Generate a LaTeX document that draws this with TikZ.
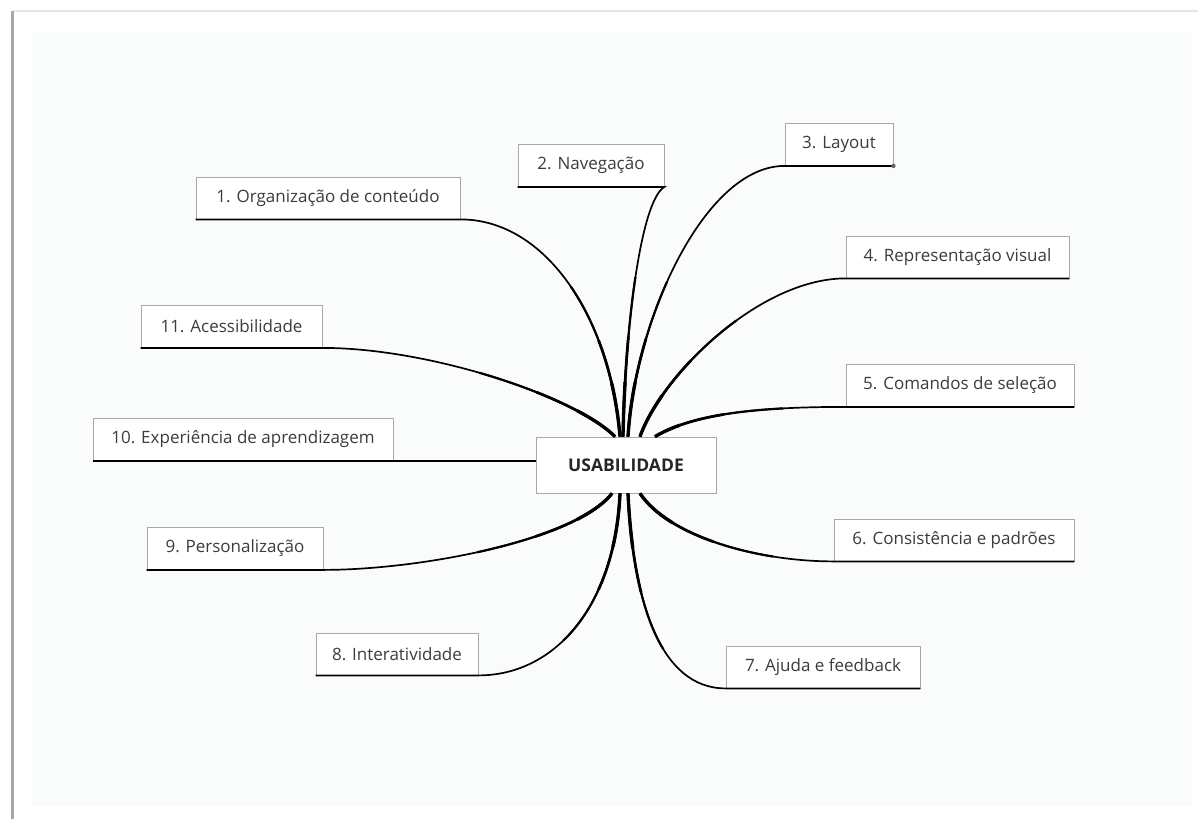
\documentclass[tikz,border=0pt]{standalone}
\usepackage{fontspec}
\setmainfont{Open Sans}
\usetikzlibrary{positioning,calc}
\definecolor{pagebg}{HTML}{FAFBFB}
\definecolor{boxline}{HTML}{A8A8A8}
\definecolor{labeltext}{HTML}{3C3C3C}
\tikzset{
     topic/.style = {draw=boxline, fill=white, text=labeltext, line width=0.8pt,
       font=\fontsize{17}{20}\selectfont, minimum height=42pt, inner sep=0pt},
     hub/.style = {topic, minimum height=56pt, minimum width=180pt, text=black!85,
       font=\fontsize{17.5}{20}\selectfont\bfseries},
     branch/.style = {black, line width=1.7pt},
    }
\newcommand{\usabranches}{
        \draw[branch] ([xshift=-6pt]c.north) .. controls +(-10,-120) and +(85,0) .. (o1.south east) -- (o1.south west);
        \draw[branch] ([xshift=-3pt]c.north) .. controls +(2,-107) and +(-24,14) .. (o2.south east) -- (o2.south west);
        \draw[branch] ([xshift=2pt]c.north) .. controls +(7,-117) and +(-80,0) .. (o3.south west) -- (o3.south east);
        \draw[branch] ([xshift=14pt]c.north) .. controls +(22,-62) and +(-86,0) .. (o4.south west) -- (o4.south east);
        \draw[branch] ([xshift=29pt]c.north) .. controls +(40,-24) and +(-81,0) .. (o5.south west) -- (o5.south east);
        \draw[branch] ([xshift=14pt]c.south) .. controls +(28,42) and +(-79,0) .. (o6.south west) -- (o6.south east);
        \draw[branch] ([xshift=2pt]c.south) .. controls +(5,107) and +(-66,0) .. (o7.south west) -- (o7.south east);
        \draw[branch] ([xshift=-6pt]c.south) .. controls +(-5,112) and +(77,0) .. (o8.south east) -- (o8.south west);
        \draw[branch] ([xshift=-14pt]c.south) .. controls +(-37,47) and +(97,0) .. (o9.south east) -- (o9.south west);
        \draw[branch] ([xshift=-11pt]c.north) .. controls +(-40,-40) and +(108,0) .. (o11.south east) -- (o11.south west);
}

\begin{document}
\begin{tikzpicture}[x=1pt,y=-1pt]
        \useasboundingbox (0,0) rectangle (1198,819);
        \fill[white] (0,0) rectangle (1198,819);
        \fill[pagebg] (32,32) rectangle (1192,806);
        \draw[black!10, line width=2pt] (13,11) -- (1198,11);
        \draw[black!35, line width=3pt] (12.5,11) -- (12.5,819);
        \node [topic, minimum width=264pt] (o1) at (328,198)   {1. Organização de conteúdo};
        \node [topic, minimum width=146pt] (o2) at (591,165.5) {2. Navegação};
        \node [topic, minimum width=108pt] (o3) at (839,144.5) {3. Layout};
        \node [topic, minimum width=223pt] (o4) at (957.5,257) {4. Representação visual};
        \node [topic, minimum width=228pt] (o5) at (960,385.5) {5. Comandos de seleção};
        \node [topic, minimum width=240pt] (o6) at (954,540)   {6. Consistência e padrões};
        \node [topic, minimum width=194pt] (o7) at (823,667)   {7. Ajuda e feedback};
        \node [topic, minimum width=162pt] (o8) at (397,654)   {8. Interatividade};
        \node [topic, minimum width=176pt] (o9) at (235,548.5) {9. Personalização};
        \node [topic, minimum width=300pt] (o10) at (243,439.5) {10. Experiência de aprendizagem};
        \node [topic, minimum width=181pt] (o11) at (231.5,326.5) {11. Acessibilidade};
        \node [hub] (c) at (626,465) {USABILIDADE};
        \usabranches
        \foreach \r/\w in {160/2.2pt, 100/2.7pt, 55/3.3pt}{
          \begin{scope}[branch/.style={black, line width=\w}]
            \clip (c.north) circle (\r) (c.south) circle (\r);
            \usabranches
          \end{scope}
        }
        \draw[branch] (c.west |- o10.south) -- (o10.south west);
        \fill[black!60] (o3.south east) circle (2.2pt);
    \end{tikzpicture}
\end{document}
